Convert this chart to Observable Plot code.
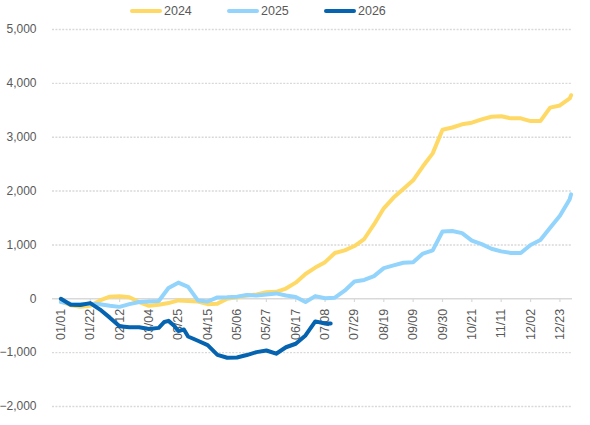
<!DOCTYPE html>
<html>
<head>
<meta charset="utf-8">
<script src="https://cdn.jsdelivr.net/npm/d3@7"></script>
<script src="https://cdn.jsdelivr.net/npm/@observablehq/plot@0.6"></script>
<style>
  body { margin: 0; background: #fff; font-family: "Liberation Sans Narrow", "Liberation Sans", Arial, sans-serif; }
  #legend { position: relative; height: 20px; font-size: 12.5px; color: #595959; }
  .item { position: absolute; top: 3px; display: flex; align-items: center; height: 16px; }
  .sw { display: inline-block; width: 32px; height: 4px; border-radius: 2px; margin-right: 2px; }
</style>
</head>
<body>
<div id="legend"></div>
<div id="chart"></div>
<script>
// day index (0 = 01/01, leap-year calendar), sampled weekly
const days2024 = [0,7,14,21,28,35,42,49,56,63,70,77,84,91,98,105,112,119,126,133,140,147,154,161,168,175,182,189,196,203,210,217,224,231,238,245,252,259,266,273,280,287,294,301,308,315,322,329,336,343,350,357,364,365];
const values2024 = [-50,-120,-150,-130,-30,40,45,30,-60,-130,-110,-80,-30,-40,-50,-100,-90,0,30,60,80,120,130,190,300,460,580,680,850,900,980,1110,1380,1680,1880,2040,2200,2460,2700,3140,3180,3240,3270,3330,3380,3390,3350,3350,3300,3300,3550,3590,3720,3780];
const days2025 = days2024;
const values2025 = [-60,-90,-95,-95,-100,-130,-150,-100,-60,-50,-40,200,300,220,-30,-50,25,30,40,70,60,80,100,60,35,-60,50,10,20,150,320,350,420,570,620,670,680,840,900,1250,1260,1220,1080,1015,930,880,850,850,1000,1090,1320,1540,1850,1940];
const days2026 = [0,7,14,21,28,35,42,49,56,63,70,74,77,81,84,88,91,98,105,112,119,126,133,140,147,154,161,168,175,182,189,193];
const values2026 = [0,-110,-115,-80,-200,-350,-510,-530,-530,-560,-540,-430,-410,-500,-600,-570,-700,-780,-860,-1040,-1095,-1090,-1045,-990,-960,-1020,-900,-835,-680,-420,-460,-460];
const seriesNames = ["2024", "2025", "2026"];
const seriesColors = ["#FFD966", "#92D4FC", "#0563B0"];
const yTicks = [-2000,-1000,0,1000,2000,3000,4000,5000];
const xTicks = [0,21,42,63,84,105,126,147,168,189,210,231,252,273,294,315,336,357];

const base = Date.UTC(2024, 0, 1);
const fmt = d3.utcFormat("%m/%d");
const dayLabel = d => fmt(new Date(base + d * 86400000));

const rows = [];
[[days2024, values2024], [days2025, values2025], [days2026, values2026]].forEach(([ds, vs], i) => {
  ds.forEach((d, j) => rows.push({series: seriesNames[i], day: d, value: vs[j]}));
});

// legend
const legendLeft = [130, 227, 324];
const leg = document.getElementById("legend");
seriesNames.forEach((n, i) => {
  const it = document.createElement("div");
  it.className = "item";
  it.style.left = legendLeft[i] + "px";
  it.innerHTML = `<span class="sw" style="background:${seriesColors[i]}"></span><span>${n}</span>`;
  leg.appendChild(it);
});

const font = '"Liberation Sans Narrow", "Liberation Sans", Arial, sans-serif';
const chart = Plot.plot({
  width: 590,
  height: 405,
  marginTop: 9,
  marginBottom: 19,
  marginLeft: 52,
  marginRight: 18,
  style: {fontFamily: font, fontSize: "12px", color: "#595959", background: "#fff"},
  x: {type: "linear", domain: [-6, 366], axis: null},
  y: {type: "linear", domain: [-2000, 5000], axis: null},
  color: {domain: seriesNames, range: seriesColors},
  marks: [
    Plot.ruleY(yTicks.filter(t => t !== 0), {y: d => d, stroke: "#d9d9d9", strokeWidth: 1.4, strokeDasharray: "2,1.4"}),
    Plot.ruleY([0], {y: d => d, stroke: "#d9d9d9", strokeWidth: 1.5}),
    Plot.text(yTicks, {y: d => d, frameAnchor: "left", text: d => d3.format(",")(d), textAnchor: "end", dx: -16, fill: "#595959", fontSize: 12}),
    Plot.ruleX(xTicks, {x: d => d, y1: 0, y2: -70, stroke: "#d9d9d9", strokeWidth: 1.2}),
    Plot.text(xTicks, {x: d => d, y: 0, text: d => dayLabel(d), rotate: -90, textAnchor: "end", lineAnchor: "middle", dy: 10, fill: "#595959", fontSize: 12.5}),
    Plot.line(rows, {x: "day", y: "value", z: "series", stroke: "series", strokeWidth: 4, strokeLinejoin: "round", strokeLinecap: "round"})
  ]
});
document.getElementById("chart").appendChild(chart);
</script>
</body>
</html>
